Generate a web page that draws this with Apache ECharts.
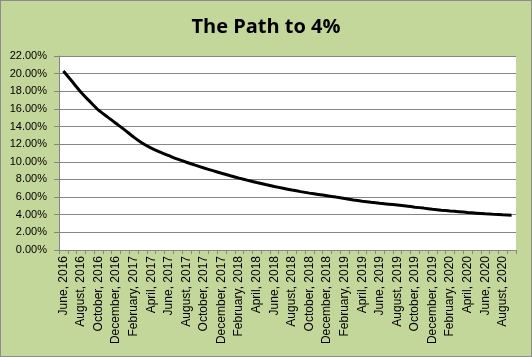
<!DOCTYPE html>
<html>
<head>
<meta charset="utf-8">
<script src="https://cdn.jsdelivr.net/npm/echarts@6/dist/echarts.min.js"></script>
<style>
html,body{margin:0;padding:0;background:#C4D79B;}
#c{width:530px;height:355px;border:1px solid #8c8c8c;}
</style>
</head>
<body>
<div id="c"></div>
<script>
const titleText = "The Path to 4%";
const categories = [
"June, 2016","July, 2016","August, 2016","September, 2016","October, 2016","November, 2016","December, 2016",
"January, 2017","February, 2017","March, 2017","April, 2017","May, 2017","June, 2017","July, 2017","August, 2017","September, 2017","October, 2017","November, 2017","December, 2017",
"January, 2018","February, 2018","March, 2018","April, 2018","May, 2018","June, 2018","July, 2018","August, 2018","September, 2018","October, 2018","November, 2018","December, 2018",
"January, 2019","February, 2019","March, 2019","April, 2019","May, 2019","June, 2019","July, 2019","August, 2019","September, 2019","October, 2019","November, 2019","December, 2019",
"January, 2020","February, 2020","March, 2020","April, 2020","May, 2020","June, 2020","July, 2020","August, 2020","September, 2020"
];
const values = [
20.3,19.1,17.9,16.85,15.85,15.1,14.35,13.6,12.8,12.1,
11.55,11.1,10.7,10.3,9.95,9.62,9.3,9.0,8.7,8.42,
8.15,7.9,7.65,7.42,7.2,7.0,6.8,6.62,6.45,6.3,
6.15,6.0,5.85,5.68,5.53,5.41,5.3,5.2,5.1,5.0,
4.86,4.75,4.62,4.52,4.43,4.35,4.26,4.18,4.1,4.04,
3.99,3.95
];
const yMin = 0, yMax = 22, yStep = 2;

const chart = echarts.init(document.getElementById('c'), null, {renderer:'canvas'});
chart.setOption({
  backgroundColor: '#C4D79B',
  animation: false,
  title: {
    text: titleText, left: 'center', top: 11,
    textStyle: {fontFamily: 'Open Sans', fontWeight: 'bold', fontSize: 20, color: '#000'}
  },
  grid: {left: 58, right: 15, top: 55, bottom: 106, backgroundColor: '#fff', show: true, borderWidth: 0},
  xAxis: {
    type: 'category', data: categories, boundaryGap: true,
    axisLine: {lineStyle: {color: '#868686', width: 1}},
    axisTick: {show: true, alignWithLabel: false, interval: 0, length: 4, lineStyle: {color: '#868686'}},
    axisLabel: {interval: 1, rotate: 90, margin: 6, fontFamily: 'Liberation Sans', fontSize: 12, color: '#000'},
    splitLine: {show: false}
  },
  yAxis: {
    type: 'value', min: yMin, max: yMax, interval: yStep,
    axisLine: {show: true, lineStyle: {color: '#868686', width: 1}},
    axisTick: {show: true, length: 5, lineStyle: {color: '#868686'}},
    axisLabel: {formatter: v => v.toFixed(2) + '%', fontFamily: 'Liberation Sans', fontSize: 11, color: '#000', margin: 12},
    splitLine: {show: true, lineStyle: {color: '#868686', width: 1}}
  },
  series: [{
    type: 'line', data: values, showSymbol: false, symbol: 'none',
    lineStyle: {color: '#000', width: 3}, smooth: 0.2
  }]
});
</script>
</body>
</html>
